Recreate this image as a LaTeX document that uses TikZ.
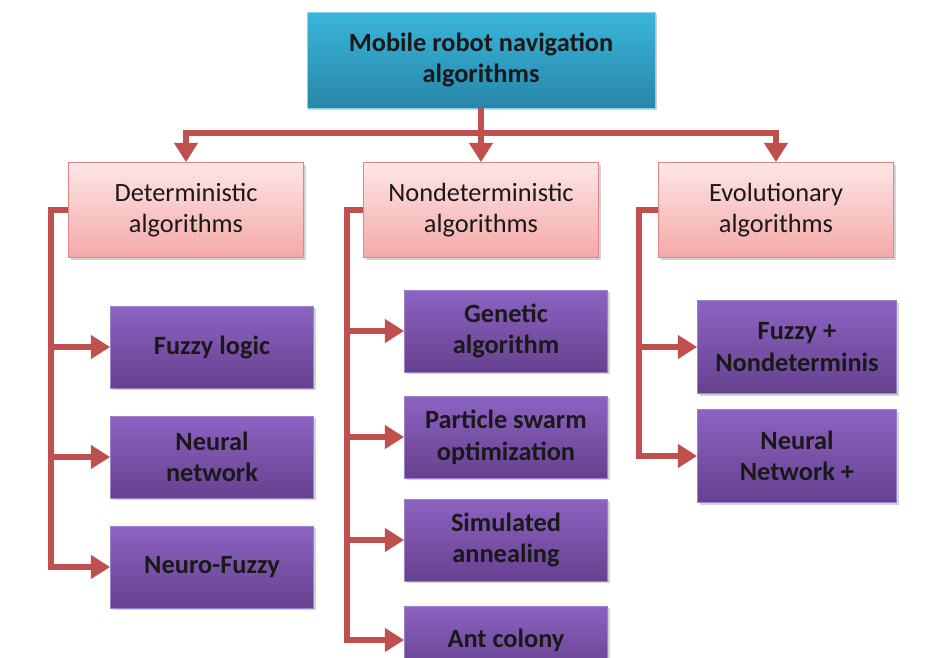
\documentclass[tikz,border=0pt]{standalone}
\usepackage{fontspec}
\setmainfont{Carlito}
\usetikzlibrary{arrows.meta,shadows}
\definecolor{linkred}{HTML}{C0504D}
\definecolor{cyantop}{HTML}{3AB6DA}
\definecolor{cyanbot}{HTML}{2886AA}
\definecolor{pinktop}{HTML}{FDE6E6}
\definecolor{pinkbot}{HTML}{F5A8A8}
\definecolor{pinkrule}{HTML}{E38585}
\definecolor{violtop}{HTML}{8C63C2}
\definecolor{violbot}{HTML}{66418F}
\definecolor{violrule}{HTML}{9F80CC}
\tikzset{
  box/.style={rectangle,align=center,text=black!90,font=\fontsize{15}{18}\selectfont,
    drop shadow={shadow xshift=1.2pt,shadow yshift=-1.2pt,opacity=.35}},
  rootbox/.style={box,font=\fontsize{15}{18}\selectfont\bfseries,draw=cyantop!60,
    top color=cyantop,bottom color=cyanbot,minimum width=6.96cm,minimum height=1.92cm},
  classbox/.style={box,draw=pinkrule,top color=pinktop,bottom color=pinkbot,
    minimum width=4.7cm,minimum height=1.9cm},
  leafbox/.style={box,font=\fontsize{15}{18}\selectfont\bfseries,draw=violrule,
    top color=violtop,bottom color=violbot,minimum width=4.06cm,minimum height=1.64cm},
  link/.style={draw=linkred,line width=3.4pt,-{Triangle[length=11pt,width=13pt]}},
  trunk/.style={draw=linkred,line width=3.4pt}
}
\begin{document}
\begin{tikzpicture}[x=0.02cm,y=-0.02cm]
\useasboundingbox (0,0) rectangle (938,658);
\clip (0,0) rectangle (938,658);
% root and the three families
\node[rootbox] (root) at (481,60) {Mobile robot navigation\\algorithms};
\node[classbox] (det) at (186,210) {Deterministic\\algorithms};
\node[classbox] (ndet) at (481,210) {Nondeterministic\\algorithms};
\node[classbox] (evo) at (776,210) {Evolutionary\\algorithms};
% leaves
\node[leafbox] (fuzzy) at (212,347) {Fuzzy logic};
\node[leafbox] (neural) at (212,457) {Neural\\network};
\node[leafbox] (neurofuzzy) at (212,567) {Neuro-Fuzzy};
\node[leafbox] (genetic) at (506,331) {Genetic\\algorithm};
\node[leafbox] (pso) at (506,437) {Particle swarm\\optimization};
\node[leafbox] (annealing) at (506,540) {Simulated\\annealing};
\node[leafbox,minimum height=1.36cm] (ant) at (506,640) {Ant colony};
\node[leafbox,minimum width=3.98cm,minimum height=1.86cm] (fuzzynd) at (797,347) {Fuzzy +\\Nondeterminis};
\node[leafbox,minimum width=3.98cm,minimum height=1.86cm] (neuralnd) at (797,456) {Neural\\Network +};
% connectors
\draw[trunk] (root.south) -- ++(0,25) coordinate (bar);
\draw[link] (bar) -| (det.north);
\draw[link] (bar) -- (ndet.north);
\draw[link] (bar) -| (evo.north);
\foreach \leaf in {fuzzy,neural,neurofuzzy}
  \draw[link] (det.west) -- ++(-17,0) |- (\leaf.west);
\foreach \leaf in {genetic,pso,annealing,ant}
  \draw[link] (ndet.west) -- ++(-16,0) |- (\leaf.west);
\foreach \leaf in {fuzzynd,neuralnd}
  \draw[link] (evo.west) -- ++(-19,0) |- (\leaf.west);
\end{tikzpicture}
\end{document}
